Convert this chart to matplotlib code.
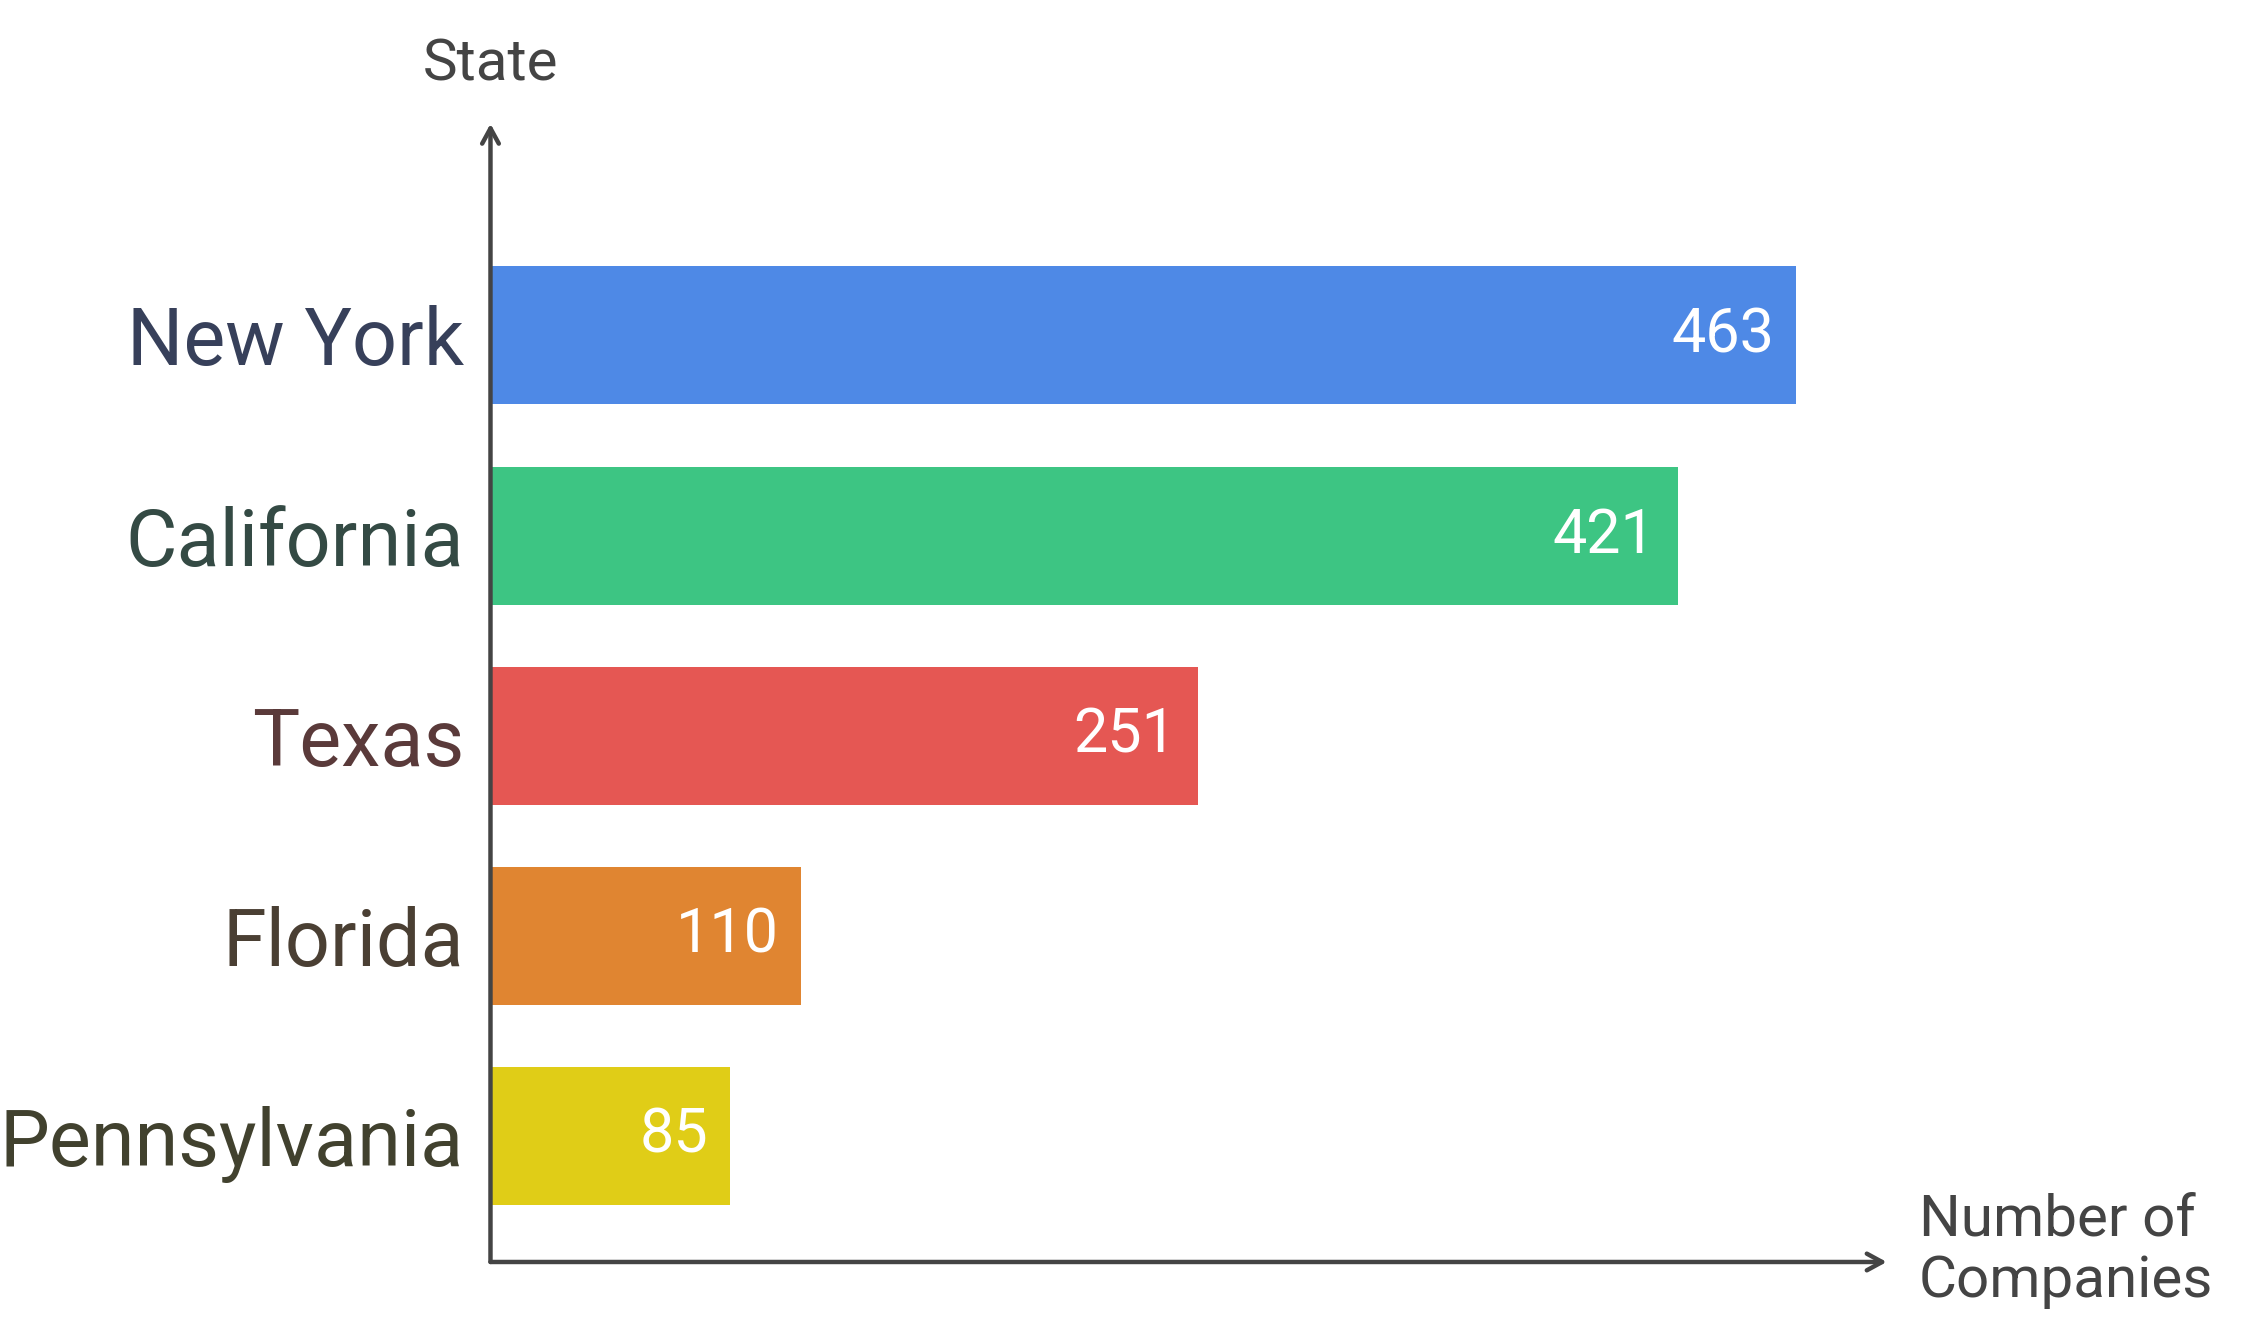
import matplotlib.pyplot as plt

plt.rcParams['font.family'] = ['Roboto', 'DejaVu Sans']

AXIS_COLOR = '#444444'

states = ['New York', 'California', 'Texas', 'Florida', 'Pennsylvania']
companies = [463, 421, 251, 110, 85]
bar_colors = ['#4E89E6', '#3DC583', '#E55753', '#E08531', '#E0CD17']
label_colors = ['#37405A', '#344A44', '#5A3A3A', '#4A3F33', '#41412E']

fig = plt.figure(figsize=(22.52, 13.36), dpi=100)
ax = fig.add_axes([0.2178, 0.0554, 0.62, 0.852])

n = len(states)
ypos = [n - 1 - i for i in range(n)]
ax.barh(ypos, companies, height=0.69, color=bar_colors)

ax.set_xlim(0, 495)
ax.set_ylim(-0.63, 5.058)

# value labels inside bar ends
for y, v in zip(ypos, companies):
    ax.annotate(str(v), (v, y), xytext=(-16, 0), textcoords='offset points',
                ha='right', va='center', color='white', fontsize=44)

ax.set_xticks([])
ax.set_yticks(ypos)
ax.set_yticklabels(states, fontsize=57)
for lbl, c in zip(ax.get_yticklabels(), label_colors):
    lbl.set_color(c)
ax.tick_params(axis='y', length=0, pad=19)

for s in ax.spines.values():
    s.set_visible(False)

# axes as arrows
arrow = dict(arrowstyle='->,head_length=1.1,head_width=0.6', color=AXIS_COLOR,
             lw=3.2, shrinkA=0, shrinkB=0)
ax.annotate('', xy=(0, 1), xytext=(0, 0), xycoords='axes fraction', arrowprops=arrow)
ax.annotate('', xy=(1, 0), xytext=(0, 0), xycoords='axes fraction', arrowprops=arrow)

fig.text(0.2178, 0.951, 'State', ha='center', va='center', fontsize=42, color=AXIS_COLOR)
fig.text(0.852, 0.064, 'Number of\nCompanies', ha='left', va='center', fontsize=42,
         color=AXIS_COLOR, linespacing=1.15)

fig.savefig('out.png', dpi=100, facecolor='white')
